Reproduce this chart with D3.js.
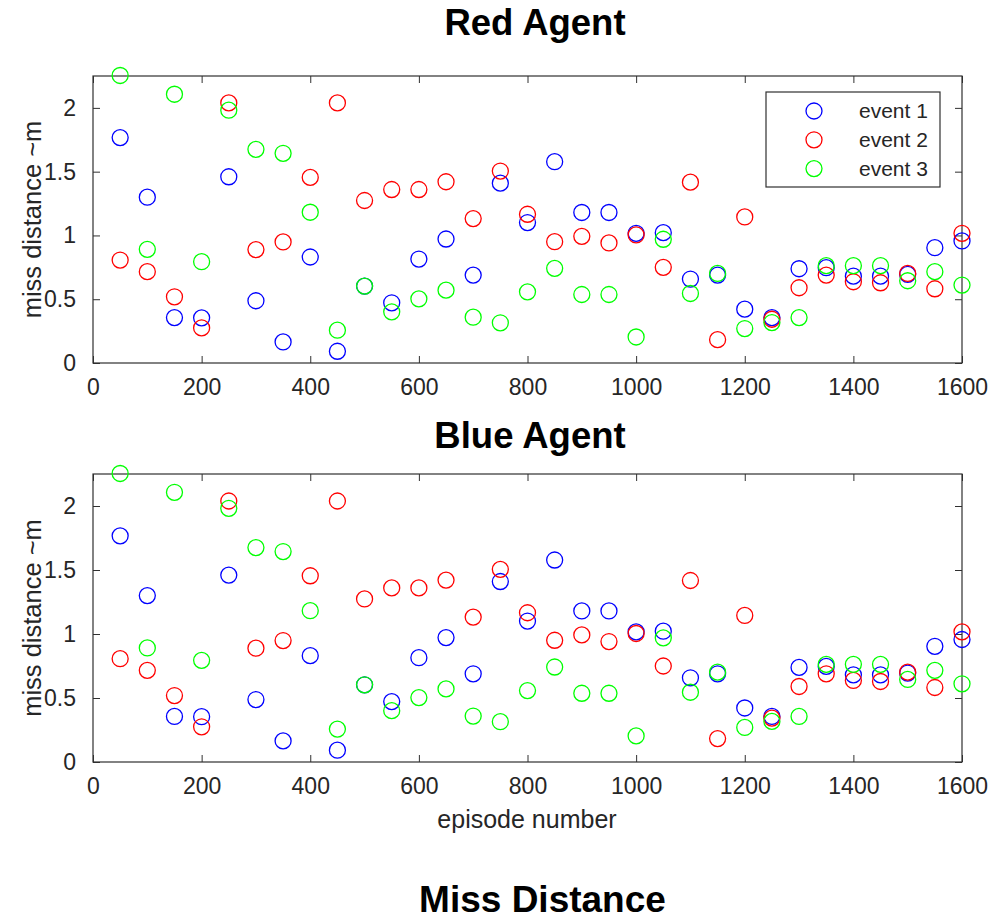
<!DOCTYPE html>
<html>
<head>
<meta charset="utf-8">
<script src="https://cdn.jsdelivr.net/npm/d3@7"></script>
<style>
  html, body { margin: 0; padding: 0; background: #fff; }
  svg { display: block; font-family: "Liberation Sans", Arial, sans-serif; }
</style>
</head>
<body>
<svg id="chart" width="991" height="921"></svg>
<script>
// ---- Data ----
const episodes = [50,100,150,200,250,300,350,400,450,500,550,600,650,700,750,800,
                  850,900,950,1000,1050,1100,1150,1200,1250,1300,1350,1400,1450,1500,1550,1600];
const event1 = [1.767,1.300,0.356,0.354,1.460,0.488,0.165,0.831,0.092,0.603,0.472,0.815,0.972,0.689,1.410,1.101,
                1.578,1.180,1.180,1.017,1.022,0.658,0.689,0.422,0.356,0.739,0.747,0.681,0.681,0.695,0.904,0.957];
const event2 = [0.807,0.716,0.519,0.275,2.039,0.889,0.949,1.455,2.039,1.274,1.360,1.360,1.421,1.132,1.505,1.166,
                0.951,0.993,0.941,1.004,0.750,1.418,0.183,1.145,0.343,0.590,0.689,0.637,0.629,0.702,0.582,1.017];
const event3 = [2.254,0.891,2.107,0.794,1.982,1.675,1.644,1.182,0.257,0.603,0.401,0.503,0.571,0.359,0.315,0.558,
                0.742,0.537,0.537,0.204,0.970,0.545,0.702,0.270,0.317,0.356,0.763,0.763,0.763,0.645,0.716,0.611];
const seriesNames = ["event 1","event 2","event 3"];
const seriesColors = ["#0000ff","#ff0000","#00ff00"];
const xTicks = [0,200,400,600,800,1000,1200,1400,1600];
const yTicks = [0,0.5,1,1.5,2];
const panelTitles = ["Red Agent","Blue Agent"];
// Both agents show the same recorded miss distances
const redAgent = [event1, event2, event3];
const blueAgent = [event1, event2, event3];

// ---- Drawing ----
const svg = d3.select("#chart");
const axisColor = "#303030";
const textColor = "#262626";
const L = 93, R = 962;

const panels = [
  {title: panelTitles[0], data: redAgent, top: 76, bottom: 363, titleX: 535, titleY: 35, legend: true, xlabel: false},
  {title: panelTitles[1], data: blueAgent, top: 474, bottom: 762, titleX: 530, titleY: 448, legend: false, xlabel: true}
];

panels.forEach(p => {
  const x = d3.scaleLinear().domain([0,1600]).range([L, R]);
  const y = d3.scaleLinear().domain([0,2.25]).range([p.bottom, p.top]);
  const g = svg.append("g");

  // title
  g.append("text").attr("x", p.titleX).attr("y", p.titleY)
    .attr("text-anchor","middle").attr("font-weight","bold")
    .attr("font-size", 36.5).attr("fill","#000").text(p.title);

  // axes (ticks inside, box on)
  const tl = 7;
  const ax = g.append("g").attr("class","axes");
  ax.append("g").attr("transform",`translate(0,${p.bottom})`)
    .call(d3.axisBottom(x).tickValues(xTicks).tickSize(-tl).tickPadding(tl + 9).tickFormat(d3.format("d")));
  ax.append("g").attr("transform",`translate(0,${p.top})`)
    .call(d3.axisTop(x).tickValues(xTicks).tickSize(-tl).tickFormat(""));
  ax.append("g").attr("transform",`translate(${L},0)`)
    .call(d3.axisLeft(y).tickValues(yTicks).tickSize(-tl).tickPadding(tl + 10).tickFormat(d => d3.format("")(d)));
  ax.append("g").attr("transform",`translate(${R},0)`)
    .call(d3.axisRight(y).tickValues(yTicks).tickSize(-tl).tickFormat(""));
  ax.selectAll(".domain").remove();
  ax.selectAll(".tick line").attr("stroke", axisColor).attr("stroke-width", 1);
  ax.selectAll(".tick text").attr("fill", textColor).attr("font-size", 23)
    .attr("font-family","Liberation Sans, Arial, sans-serif");
  ax.append("rect").attr("x", L).attr("y", p.top).attr("width", R - L).attr("height", p.bottom - p.top)
    .attr("fill","none").attr("stroke", axisColor).attr("stroke-width", 1.2);

  // y label
  const yc = (p.top + p.bottom) / 2;
  g.append("text").attr("transform", `translate(41,${yc}) rotate(-90)`)
    .attr("text-anchor","middle").attr("font-size", 25.5).attr("fill", textColor)
    .text("miss distance ~m");

  if (p.xlabel) {
    g.append("text").attr("x", 527).attr("y", 828).attr("text-anchor","middle")
      .attr("font-size", 25).attr("fill", textColor).text("episode number");
  }

  // points
  p.data.forEach((vals, si) => {
    g.append("g").selectAll("circle").data(vals.map((v,i) => [episodes[i], v])).join("circle")
      .attr("cx", d => x(d[0])).attr("cy", d => y(d[1])).attr("r", 8)
      .attr("fill","none").attr("stroke", seriesColors[si]).attr("stroke-width", 1.3);
  });

  if (p.legend) {
    const lg = g.append("g");
    lg.append("rect").attr("x", 766).attr("y", 92).attr("width", 174).attr("height", 95)
      .attr("fill","#fff").attr("stroke", axisColor).attr("stroke-width", 1.2);
    seriesNames.forEach((n, i) => {
      const cy = 111 + i * 28.8;
      lg.append("circle").attr("cx", 814).attr("cy", cy).attr("r", 8)
        .attr("fill","none").attr("stroke", seriesColors[i]).attr("stroke-width", 1.3);
      lg.append("text").attr("x", 859).attr("y", cy + 7).attr("font-size", 21)
        .attr("fill", textColor).text(n);
    });
  }
});

svg.append("text").attr("x", 542.5).attr("y", 912).attr("text-anchor","middle")
  .attr("font-weight","bold").attr("font-size", 37).attr("fill","#000").text("Miss Distance");
</script>
</body>
</html>
